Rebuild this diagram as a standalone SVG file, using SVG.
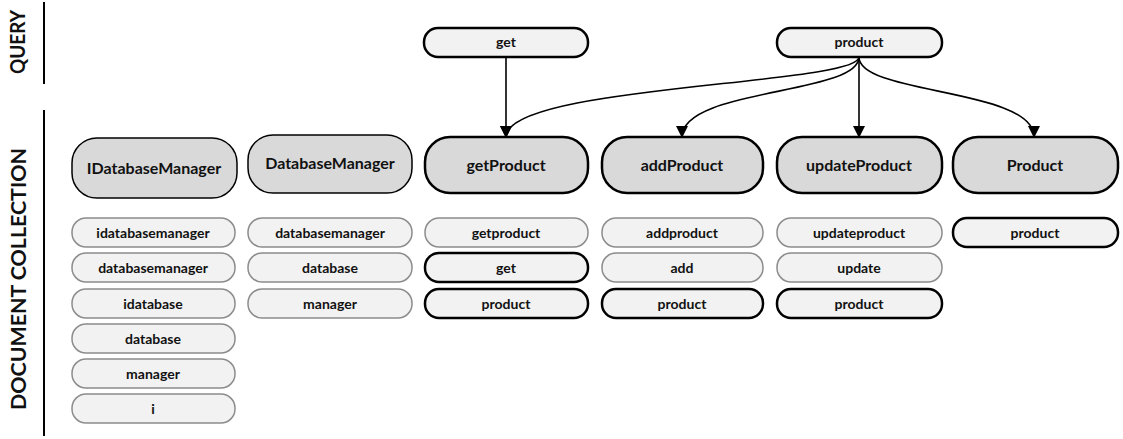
<svg xmlns="http://www.w3.org/2000/svg" width="1123" height="439" viewBox="0 0 1123 439">
  <style>
    text { font-family: Lato, "Open Sans", "Liberation Sans", sans-serif; font-weight: bold; fill: #111; text-anchor: middle; }
    .side { font-size: 21px; }
    .big { font-size: 16px; }
    .small { font-size: 14px; }
    .qn rect { fill: #f2f2f2; stroke: #000; stroke-width: 2.5; }
    .bn rect { fill: #d9d9d9; stroke: #000; stroke-width: 2.5; }
    .bn.thin rect { stroke-width: 1.5; }
    .tok rect { fill: #f2f2f2; stroke: #8c8c8c; stroke-width: 1.5; }
    .tok.hit rect { stroke: #000; stroke-width: 2.5; }
    .axis { stroke: #000; stroke-width: 2; }
    #connectors path { fill: none; stroke: #000; stroke-width: 1.6; marker-end: url(#arrow); }
  </style>
  <defs>
    <marker id="arrow" markerUnits="userSpaceOnUse" markerWidth="12" markerHeight="12" viewBox="0 0 12 12" refX="11" refY="6" orient="auto">
      <path d="M0,0 L12,6 L0,12 Z" fill="#000"/>
    </marker>
  </defs>

  <!-- section labels -->
  <g id="labels">
    <line class="axis" x1="44" y1="2" x2="44" y2="84"/>
    <line class="axis" x1="44" y1="110" x2="44" y2="436"/>
    <text class="side" transform="translate(25,42) rotate(-90)" textLength="64" lengthAdjust="spacingAndGlyphs">QUERY</text>
    <text class="side" transform="translate(26,279) rotate(-90)" textLength="262" lengthAdjust="spacingAndGlyphs">DOCUMENT COLLECTION</text>
  </g>

  <!-- query terms -->
  <g id="q-get" class="qn"><rect x="424" y="28" width="164" height="29" rx="14"/><text class="small" x="506" y="47">get</text></g>
  <g id="q-product" class="qn"><rect x="777" y="28" width="165" height="29" rx="14"/><text class="small" x="859" y="47">product</text></g>

  <!-- documents -->
  <g id="d-idatabasemanager" class="bn thin"><rect x="72" y="138" width="165" height="60" rx="25"/><text class="big" x="154" y="174">IDatabaseManager</text></g>
  <g id="d-databasemanager" class="bn thin"><rect x="248" y="135" width="164" height="58" rx="25"/><text class="big" x="330" y="169">DatabaseManager</text></g>
  <g id="d-getproduct" class="bn"><rect x="425" y="137" width="163" height="56" rx="25"/><text class="big" x="506" y="171">getProduct</text></g>
  <g id="d-addproduct" class="bn"><rect x="602" y="137" width="161" height="56" rx="25"/><text class="big" x="682" y="171">addProduct</text></g>
  <g id="d-updateproduct" class="bn"><rect x="777" y="137" width="165" height="56" rx="25"/><text class="big" x="859" y="171">updateProduct</text></g>
  <g id="d-product" class="bn"><rect x="953" y="137" width="165" height="56" rx="25"/><text class="big" x="1035" y="171">Product</text></g>

  <!-- tokens: IDatabaseManager -->
  <g id="t1-1" class="tok"><rect x="72" y="218" width="163" height="29" rx="14"/><text class="small" x="153" y="237.5">idatabasemanager</text></g>
  <g id="t1-2" class="tok"><rect x="72" y="253" width="163" height="29" rx="14"/><text class="small" x="153" y="272.5">databasemanager</text></g>
  <g id="t1-3" class="tok"><rect x="72" y="289" width="163" height="29" rx="14"/><text class="small" x="153" y="308.5">idatabase</text></g>
  <g id="t1-4" class="tok"><rect x="72" y="324" width="163" height="29" rx="14"/><text class="small" x="153" y="343.5">database</text></g>
  <g id="t1-5" class="tok"><rect x="72" y="359" width="163" height="29" rx="14"/><text class="small" x="153" y="378.5">manager</text></g>
  <g id="t1-6" class="tok"><rect x="72" y="394" width="163" height="29" rx="14"/><text class="small" x="153" y="413.5">i</text></g>

  <!-- tokens: DatabaseManager -->
  <g id="t2-1" class="tok"><rect x="248" y="218" width="164" height="29" rx="14"/><text class="small" x="330" y="237.5">databasemanager</text></g>
  <g id="t2-2" class="tok"><rect x="248" y="253" width="164" height="29" rx="14"/><text class="small" x="330" y="272.5">database</text></g>
  <g id="t2-3" class="tok"><rect x="248" y="289" width="164" height="29" rx="14"/><text class="small" x="330" y="308.5">manager</text></g>

  <!-- tokens: getProduct -->
  <g id="t3-1" class="tok"><rect x="425" y="218" width="163" height="29" rx="14"/><text class="small" x="506" y="237.5">getproduct</text></g>
  <g id="t3-2" class="tok hit"><rect x="425" y="253" width="163" height="29" rx="14"/><text class="small" x="506" y="272.5">get</text></g>
  <g id="t3-3" class="tok hit"><rect x="425" y="289" width="163" height="29" rx="14"/><text class="small" x="506" y="308.5">product</text></g>

  <!-- tokens: addProduct -->
  <g id="t4-1" class="tok"><rect x="602" y="218" width="161" height="29" rx="14"/><text class="small" x="682" y="237.5">addproduct</text></g>
  <g id="t4-2" class="tok"><rect x="602" y="253" width="161" height="29" rx="14"/><text class="small" x="682" y="272.5">add</text></g>
  <g id="t4-3" class="tok hit"><rect x="602" y="289" width="161" height="29" rx="14"/><text class="small" x="682" y="308.5">product</text></g>

  <!-- tokens: updateProduct -->
  <g id="t5-1" class="tok"><rect x="777" y="218" width="165" height="29" rx="14"/><text class="small" x="859" y="237.5">updateproduct</text></g>
  <g id="t5-2" class="tok"><rect x="777" y="253" width="165" height="29" rx="14"/><text class="small" x="859" y="272.5">update</text></g>
  <g id="t5-3" class="tok hit"><rect x="777" y="289" width="165" height="29" rx="14"/><text class="small" x="859" y="308.5">product</text></g>

  <!-- tokens: Product -->
  <g id="t6-1" class="tok hit"><rect x="953" y="218" width="165" height="29" rx="14"/><text class="small" x="1035" y="237.5">product</text></g>

  <!-- query-to-document links -->
  <g id="connectors">
    <path d="M506,57 L506,137"/>
    <path d="M859,57 C859,85 506,85 506,137"/>
    <path d="M859,57 C859,95 682,88 682,137"/>
    <path d="M859,57 L859,137"/>
    <path d="M859,57 C859,95 1034,88 1034,137"/>
  </g>
</svg>
